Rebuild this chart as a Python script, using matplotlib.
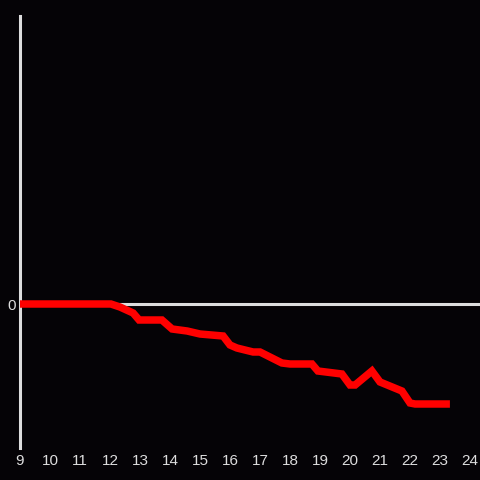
import matplotlib
matplotlib.use("Agg")
import matplotlib.pyplot as plt

# hours and values
hours = [9, 12.03, 12.33, 12.77, 12.97, 13.73, 14.07, 14.57, 15.0, 15.77,
         16.0, 16.23, 16.77, 17.0, 17.73, 18.0, 18.73, 18.93, 19.73, 20.0,
         20.17, 20.73, 21.0, 21.73, 22.0, 22.17, 23.33]
values = [0, 0, -0.3, -0.9, -1.6, -1.6, -2.5, -2.7, -3.0, -3.2,
          -4.1, -4.4, -4.8, -4.8, -5.9, -6.0, -6.0, -6.7, -7.0, -8.1,
          -8.1, -6.7, -7.8, -8.7, -9.9, -10.0, -10.0]
xticks = list(range(9, 25))

bg = "#050306"
fg = "#dddddd"

fig = plt.figure(figsize=(4.8, 4.8), dpi=100, facecolor=bg)
ax = fig.add_axes([20 / 480, 32 / 480, 460 / 480, 432 / 480])
ax.set_facecolor(bg)

ax.axhline(0, color=fg, linewidth=2.2, zorder=1)
ax.plot(hours, values, color="#ff0000", linewidth=5.4, zorder=3,
        solid_joinstyle="miter", solid_capstyle="butt")

ax.set_xlim(9, 24.333)
ax.set_ylim(-14.4, 28.8)
ax.set_xticks(xticks)
ax.set_yticks([0])
ax.tick_params(length=0, colors=fg, labelsize=11, pad=4)
for lab in ax.get_xticklabels() + ax.get_yticklabels():
    lab.set_family("Liberation Sans")

for s in ["top", "right", "bottom"]:
    ax.spines[s].set_visible(False)
ax.spines["left"].set_color(fg)
ax.spines["left"].set_linewidth(2.2)
ax.tick_params(axis="y", pad=3)

fig.savefig("out.png", dpi=100, facecolor=bg)
